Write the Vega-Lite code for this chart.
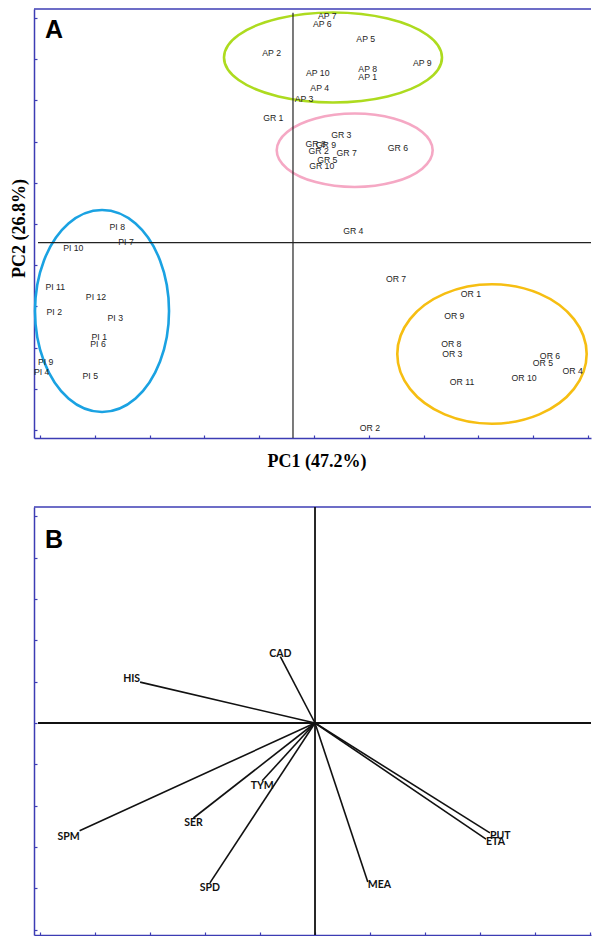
{
  "$schema": "https://vega.github.io/schema/vega-lite/v6.json",
  "padding": {"left": 10, "top": 7, "right": 0, "bottom": 0},
  "spacing": 36,
  "config": {
    "view": {"stroke": null},
    "axis": {"labels": false, "grid": false, "domainColor": "#3c3cb4", "domainWidth": 1.5, "tickColor": "#3c3cb4", "tickWidth": 1.2, "tickSize": -3}
  },
  "datasets": {
    "scores": [
      {"sample": "AP 1", "group": "AP", "pc1": 1.363, "pc2": 4.029},
      {"sample": "AP 2", "group": "AP", "pc1": -0.389, "pc2": 4.612},
      {"sample": "AP 3", "group": "AP", "pc1": 0.201, "pc2": 3.488},
      {"sample": "AP 4", "group": "AP", "pc1": 0.487, "pc2": 3.755},
      {"sample": "AP 5", "group": "AP", "pc1": 1.327, "pc2": 4.937},
      {"sample": "AP 6", "group": "AP", "pc1": 0.535, "pc2": 5.316},
      {"sample": "AP 7", "group": "AP", "pc1": 0.626, "pc2": 5.502},
      {"sample": "AP 8", "group": "AP", "pc1": 1.363, "pc2": 4.209},
      {"sample": "AP 9", "group": "AP", "pc1": 2.359, "pc2": 4.354},
      {"sample": "AP 10", "group": "AP", "pc1": 0.451, "pc2": 4.119},
      {"sample": "GR 1", "group": "GR", "pc1": -0.359, "pc2": 3.034},
      {"sample": "GR 2", "group": "GR", "pc1": 0.469, "pc2": 2.218},
      {"sample": "GR 3", "group": "GR", "pc1": 0.881, "pc2": 2.607},
      {"sample": "GR 4", "group": "GR", "pc1": 1.1, "pc2": 0.284},
      {"sample": "GR 5", "group": "GR", "pc1": 0.626, "pc2": 2.015},
      {"sample": "GR 6", "group": "GR", "pc1": 1.916, "pc2": 2.306},
      {"sample": "GR 7", "group": "GR", "pc1": 0.98, "pc2": 2.177},
      {"sample": "GR 8", "group": "GR", "pc1": 0.414, "pc2": 2.403},
      {"sample": "GR 9", "group": "GR", "pc1": 0.602, "pc2": 2.364},
      {"sample": "GR 10", "group": "GR", "pc1": 0.524, "pc2": 1.862},
      {"sample": "PI 1", "group": "PI", "pc1": -3.535, "pc2": -2.289},
      {"sample": "PI 2", "group": "PI", "pc1": -4.356, "pc2": -1.675},
      {"sample": "PI 3", "group": "PI", "pc1": -3.243, "pc2": -1.82},
      {"sample": "PI 4", "group": "PI", "pc1": -4.586, "pc2": -3.131},
      {"sample": "PI 5", "group": "PI", "pc1": -3.699, "pc2": -3.228},
      {"sample": "PI 6", "group": "PI", "pc1": -3.558, "pc2": -2.466},
      {"sample": "PI 7", "group": "PI", "pc1": -3.047, "pc2": 0.024},
      {"sample": "PI 8", "group": "PI", "pc1": -3.206, "pc2": 0.381},
      {"sample": "PI 9", "group": "PI", "pc1": -4.513, "pc2": -2.888},
      {"sample": "PI 10", "group": "PI", "pc1": -4.009, "pc2": -0.136},
      {"sample": "PI 11", "group": "PI", "pc1": -4.338, "pc2": -1.068},
      {"sample": "PI 12", "group": "PI", "pc1": -3.595, "pc2": -1.318},
      {"sample": "OR 1", "group": "OR", "pc1": 3.248, "pc2": -1.252},
      {"sample": "OR 2", "group": "OR", "pc1": 1.405, "pc2": -4.505},
      {"sample": "OR 3", "group": "OR", "pc1": 2.907, "pc2": -2.709},
      {"sample": "OR 4", "group": "OR", "pc1": 5.104, "pc2": -3.121},
      {"sample": "OR 5", "group": "OR", "pc1": 4.562, "pc2": -2.913},
      {"sample": "OR 6", "group": "OR", "pc1": 4.69, "pc2": -2.757},
      {"sample": "OR 7", "group": "OR", "pc1": 1.88, "pc2": -0.881},
      {"sample": "OR 8", "group": "OR", "pc1": 2.889, "pc2": -2.466},
      {"sample": "OR 9", "group": "OR", "pc1": 2.943, "pc2": -1.772},
      {"sample": "OR 10", "group": "OR", "pc1": 4.215, "pc2": -3.277},
      {"sample": "OR 11", "group": "OR", "pc1": 3.084, "pc2": -3.388}
    ],
    "ellipses": [
      {"group": "AP", "i": 0, "pc1": 2.719, "pc2": 4.495},
      {"group": "AP", "i": 1, "pc1": 2.452, "pc2": 5.041},
      {"group": "AP", "i": 2, "pc1": 1.725, "pc2": 5.441},
      {"group": "AP", "i": 3, "pc1": 0.73, "pc2": 5.587},
      {"group": "AP", "i": 4, "pc1": -0.265, "pc2": 5.441},
      {"group": "AP", "i": 5, "pc1": -0.992, "pc2": 5.041},
      {"group": "AP", "i": 6, "pc1": -1.259, "pc2": 4.495},
      {"group": "AP", "i": 7, "pc1": -0.992, "pc2": 3.949},
      {"group": "AP", "i": 8, "pc1": -0.265, "pc2": 3.549},
      {"group": "AP", "i": 9, "pc1": 0.73, "pc2": 3.403},
      {"group": "AP", "i": 10, "pc1": 1.725, "pc2": 3.549},
      {"group": "AP", "i": 11, "pc1": 2.452, "pc2": 3.949},
      {"group": "GR", "i": 0, "pc1": 2.549, "pc2": 2.243},
      {"group": "GR", "i": 1, "pc1": 2.358, "pc2": 2.689},
      {"group": "GR", "i": 2, "pc1": 1.838, "pc2": 3.015},
      {"group": "GR", "i": 3, "pc1": 1.126, "pc2": 3.134},
      {"group": "GR", "i": 4, "pc1": 0.414, "pc2": 3.015},
      {"group": "GR", "i": 5, "pc1": -0.106, "pc2": 2.689},
      {"group": "GR", "i": 6, "pc1": -0.297, "pc2": 2.243},
      {"group": "GR", "i": 7, "pc1": -0.106, "pc2": 1.797},
      {"group": "GR", "i": 8, "pc1": 0.414, "pc2": 1.471},
      {"group": "GR", "i": 9, "pc1": 1.126, "pc2": 1.352},
      {"group": "GR", "i": 10, "pc1": 1.838, "pc2": 1.471},
      {"group": "GR", "i": 11, "pc1": 2.358, "pc2": 1.797},
      {"group": "PI", "i": 0, "pc1": -2.262, "pc2": -1.658},
      {"group": "PI", "i": 1, "pc1": -2.426, "pc2": -0.432},
      {"group": "PI", "i": 2, "pc1": -2.873, "pc2": 0.465},
      {"group": "PI", "i": 3, "pc1": -3.485, "pc2": 0.793},
      {"group": "PI", "i": 4, "pc1": -4.097, "pc2": 0.465},
      {"group": "PI", "i": 5, "pc1": -4.544, "pc2": -0.432},
      {"group": "PI", "i": 6, "pc1": -4.708, "pc2": -1.658},
      {"group": "PI", "i": 7, "pc1": -4.544, "pc2": -2.884},
      {"group": "PI", "i": 8, "pc1": -4.097, "pc2": -3.781},
      {"group": "PI", "i": 9, "pc1": -3.485, "pc2": -4.109},
      {"group": "PI", "i": 10, "pc1": -2.873, "pc2": -3.781},
      {"group": "PI", "i": 11, "pc1": -2.426, "pc2": -2.884},
      {"group": "OR", "i": 0, "pc1": 5.359, "pc2": -2.701},
      {"group": "OR", "i": 1, "pc1": 5.127, "pc2": -1.855},
      {"group": "OR", "i": 2, "pc1": 4.495, "pc2": -1.236},
      {"group": "OR", "i": 3, "pc1": 3.631, "pc2": -1.009},
      {"group": "OR", "i": 4, "pc1": 2.767, "pc2": -1.236},
      {"group": "OR", "i": 5, "pc1": 2.135, "pc2": -1.855},
      {"group": "OR", "i": 6, "pc1": 1.903, "pc2": -2.701},
      {"group": "OR", "i": 7, "pc1": 2.135, "pc2": -3.547},
      {"group": "OR", "i": 8, "pc1": 2.767, "pc2": -4.166},
      {"group": "OR", "i": 9, "pc1": 3.631, "pc2": -4.393},
      {"group": "OR", "i": 10, "pc1": 4.495, "pc2": -4.166},
      {"group": "OR", "i": 11, "pc1": 5.127, "pc2": -3.547}
    ],
    "loadings": [
      {"variable": "CAD", "pc1": -0.63, "pc2": 1.61},
      {"variable": "HIS", "pc1": -3.18, "pc2": 0.99},
      {"variable": "SPM", "pc1": -4.28, "pc2": -2.61},
      {"variable": "SER", "pc1": -2.21, "pc2": -2.3},
      {"variable": "TYM", "pc1": -0.96, "pc2": -1.4},
      {"variable": "SPD", "pc1": -1.91, "pc2": -3.87},
      {"variable": "MEA", "pc1": 0.96, "pc2": -3.85},
      {"variable": "PUT", "pc1": 3.18, "pc2": -2.66},
      {"variable": "ETA", "pc1": 3.11, "pc2": -2.81}
    ]
  },
  "vconcat": [
    {
      "width": 557,
      "height": 429,
      "layer": [
        {
          "data": {"name": "ellipses"},
          "mark": {"type": "line", "interpolate": "cardinal-closed", "strokeWidth": 2.6},
          "encoding": {
            "x": {"field": "pc1", "type": "quantitative", "scale": {"domain": [-4.726, 5.438], "nice": false, "zero": false},
              "axis": {"values": [-4.617, -3.617, -2.617, -1.617, -0.617, 0.383, 1.383, 2.383, 3.383, 4.383, 5.383],
                "title": "PC1 (47.2%)", "titleFont": "Liberation Serif", "titleFontSize": 18, "titleFontWeight": "bold", "titleColor": "#000000",
                "titleBaseline": "alphabetic", "titleY": 28, "titleX": 282.5}},
            "y": {"field": "pc2", "type": "quantitative", "scale": {"domain": [-4.74, 5.672], "nice": false, "zero": false},
              "axis": {"values": [5.454, 4.454, 3.454, 2.454, 1.454, 0.454, -0.546, -1.546, -2.546, -3.546, -4.546],
                "title": "PC2 (26.8%)", "titleFont": "Liberation Serif", "titleFontSize": 18, "titleFontWeight": "bold", "titleColor": "#000000",
                "titleBaseline": "alphabetic", "titleAngle": -90, "titleX": -10, "titleY": 219, "titleAlign": "center"}},
            "color": {"field": "group", "type": "nominal", "scale": {"domain": ["AP", "GR", "PI", "OR"], "range": ["#addb1f", "#f5a8c4", "#1aa2e2", "#f6be12"]}, "legend": null},
            "order": {"field": "i", "type": "quantitative"}
          }
        },
        {
          "data": {"values": [{}]},
          "mark": {"type": "rule", "color": "#3c3cb4", "strokeWidth": 1.5},
          "encoding": {"y": {"datum": 5.672}}
        },
        {
          "data": {"values": [{}]},
          "mark": {"type": "rule", "color": "#222222", "strokeWidth": 1.2},
          "encoding": {"x": {"datum": 0}, "y": {"datum": -4.74}, "y2": {"datum": 5.58}}
        },
        {
          "data": {"values": [{}]},
          "mark": {"type": "rule", "color": "#222222", "strokeWidth": 1.2},
          "encoding": {"y": {"datum": 0}, "x": {"datum": -4.653}, "x2": {"datum": 5.438}}
        },
        {
          "data": {"name": "scores"},
          "mark": {"type": "text", "font": "Liberation Sans", "fontSize": 8.7, "color": "#1e1e1e", "align": "center", "baseline": "middle", "clip": true},
          "encoding": {
            "x": {"field": "pc1", "type": "quantitative"},
            "y": {"field": "pc2", "type": "quantitative"},
            "text": {"field": "sample"}
          }
        },
        {
          "data": {"values": [{"panel": "A"}]},
          "mark": {"type": "text", "font": "Liberation Sans", "fontSize": 25, "fontWeight": "bold", "color": "#000000", "align": "left", "baseline": "alphabetic"},
          "encoding": {"x": {"datum": -4.526}, "y": {"datum": 4.968}, "text": {"field": "panel"}}
        }
      ]
    },
    {
      "width": 557,
      "height": 428,
      "layer": [
        {
          "data": {"name": "loadings"},
          "mark": {"type": "rule", "color": "#111111", "strokeWidth": 1.6},
          "encoding": {
            "x": {"field": "pc1", "type": "quantitative", "scale": {"domain": [-5.109, 5.018], "nice": false, "zero": false},
              "axis": {"values": [-5, -4, -3, -2, -1, 0, 1, 2, 3, 4, 5], "title": null}},
            "y": {"field": "pc2", "type": "quantitative", "scale": {"domain": [-5.133, 5.23], "nice": false, "zero": false},
              "axis": {"values": [-5, -4, -3, -2, -1, 0, 1, 2, 3, 4, 5], "title": null}},
            "x2": {"datum": 0},
            "y2": {"datum": 0}
          }
        },
        {
          "data": {"values": [{}]},
          "mark": {"type": "rule", "color": "#3c3cb4", "strokeWidth": 1.5},
          "encoding": {"y": {"datum": 5.23}}
        },
        {
          "data": {"values": [{}]},
          "mark": {"type": "rule", "color": "#111111", "strokeWidth": 1.8},
          "encoding": {"x": {"datum": 0}}
        },
        {
          "data": {"values": [{}]},
          "mark": {"type": "rule", "color": "#111111", "strokeWidth": 1.8},
          "encoding": {"y": {"datum": 0}, "x": {"datum": -5.036}, "x2": {"datum": 5.018}}
        },
        {
          "data": {"name": "loadings"},
          "transform": [{"filter": "datum.pc2 > 0 && datum.pc1 >= -3"}],
          "mark": {"type": "text", "font": "Lato", "fontSize": 10.5, "fontWeight": "bold", "color": "#111111", "align": "center", "baseline": "alphabetic"},
          "encoding": {"x": {"field": "pc1", "type": "quantitative"}, "y": {"field": "pc2", "type": "quantitative"}, "text": {"field": "variable"}}
        },
        {
          "data": {"name": "loadings"},
          "transform": [{"filter": "datum.pc2 > 0 && datum.pc1 < -3"}],
          "mark": {"type": "text", "font": "Lato", "fontSize": 10.5, "fontWeight": "bold", "color": "#111111", "align": "right", "baseline": "alphabetic"},
          "encoding": {"x": {"field": "pc1", "type": "quantitative"}, "y": {"field": "pc2", "type": "quantitative"}, "text": {"field": "variable"}}
        },
        {
          "data": {"name": "loadings"},
          "transform": [{"filter": "datum.pc2 < 0 && datum.pc1 < -3"}],
          "mark": {"type": "text", "font": "Lato", "fontSize": 10.5, "fontWeight": "bold", "color": "#111111", "align": "right", "baseline": "middle", "dy": 6},
          "encoding": {"x": {"field": "pc1", "type": "quantitative"}, "y": {"field": "pc2", "type": "quantitative"}, "text": {"field": "variable"}}
        },
        {
          "data": {"name": "loadings"},
          "transform": [{"filter": "datum.pc2 < 0 && datum.pc1 >= -3 && datum.pc1 <= 0"}],
          "mark": {"type": "text", "font": "Lato", "fontSize": 10.5, "fontWeight": "bold", "color": "#111111", "align": "center", "baseline": "middle", "dy": 5},
          "encoding": {"x": {"field": "pc1", "type": "quantitative"}, "y": {"field": "pc2", "type": "quantitative"}, "text": {"field": "variable"}}
        },
        {
          "data": {"name": "loadings"},
          "transform": [{"filter": "datum.pc1 > 0"}],
          "mark": {"type": "text", "font": "Lato", "fontSize": 10.5, "fontWeight": "bold", "color": "#111111", "align": "left", "baseline": "middle", "dy": 3},
          "encoding": {"x": {"field": "pc1", "type": "quantitative"}, "y": {"field": "pc2", "type": "quantitative"}, "text": {"field": "variable"}}
        },
        {
          "data": {"values": [{"panel": "B"}]},
          "mark": {"type": "text", "font": "Liberation Sans", "fontSize": 25, "fontWeight": "bold", "color": "#000000", "align": "left", "baseline": "alphabetic"},
          "encoding": {"x": {"datum": -4.909}, "y": {"datum": 4.237}, "text": {"field": "panel"}}
        }
      ]
    }
  ]
}
